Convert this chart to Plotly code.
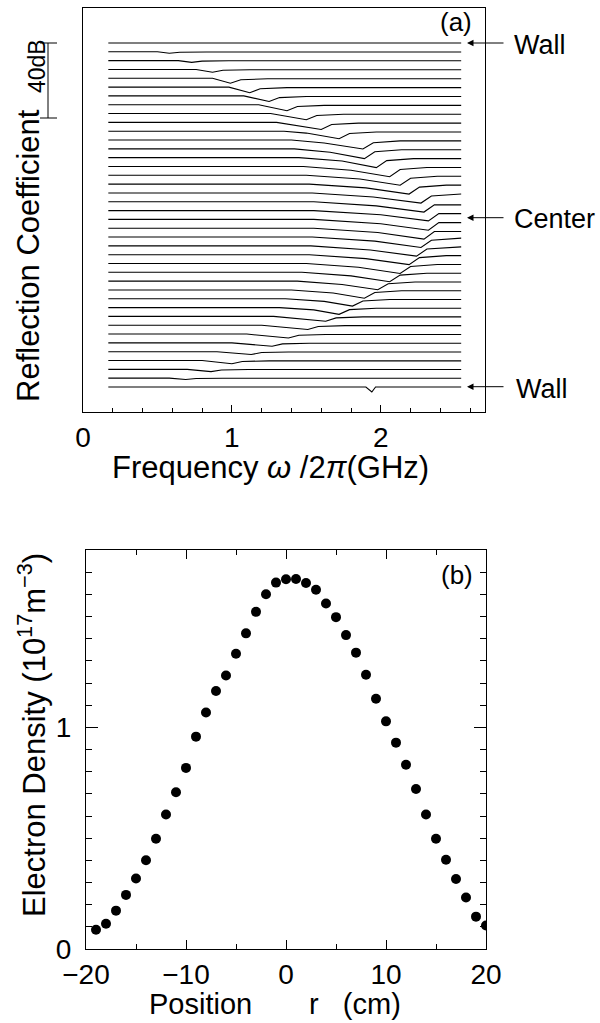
import plotly.graph_objects as go

# ---------------- data: panel (a) reflection spectra ----------------
F_START = 0.17   # GHz, left end of every spectrum
F_END = 2.54     # GHz, right end of every spectrum
TRACE_STEP_DB = 4.704  # vertical offset between successive spectra (dB)

# resonance (dip) frequency of each of the 40 spectra, top (wall) to bottom (wall)
dip_freq = [0.45, 0.58, 0.73, 0.87, 0.99, 1.12, 1.25, 1.37, 1.50, 1.60,
            1.72, 1.88, 1.89, 1.97, 2.06, 2.13, 2.19, 2.27, 2.29, 2.32,
            2.32, 2.29, 2.27, 2.24, 2.19, 2.13, 2.06, 1.98, 1.89, 1.81,
            1.72, 1.63, 1.51, 1.38, 1.27, 1.13, 1.00, 0.86, 0.69, 1.94]
# dip depth (dB)
dip_depth = [0.0, 0.8, 0.9, 1.5, 2.6, 3.0, 3.0, 3.2, 3.3, 3.8,
             4.0, 4.8, 5.2, 5.3, 5.5, 5.3, 5.3, 5.4, 5.5, 5.5,
             5.8, 5.8, 5.6, 5.5, 5.3, 5.3, 5.0, 4.6, 4.4, 3.9,
             3.6, 2.6, 2.3, 2.1, 1.8, 1.5, 1.7, 1.2, 0.7, 2.7]
# frequency where the spectrum starts to fall towards the dip (GHz)
slope_start = [0.40, 0.50, 0.64, 0.76, 0.87, 0.98, 1.08, 1.18, 1.26, 1.30,
               1.35, 1.40, 1.42, 1.45, 1.48, 1.50, 1.52, 1.54, 1.55, 1.55,
               1.55, 1.55, 1.54, 1.53, 1.52, 1.50, 1.47, 1.44, 1.40, 1.36,
               1.32, 1.28, 1.20, 1.10, 1.00, 0.90, 0.80, 0.70, 0.58, 1.90]
# small secondary notch on the falling slope (GHz, level in dB)
sec_freq = [None, None, None, None, None, None, None, None, None, None,
            1.50, 1.62, 1.66, 1.74, 1.80, 1.86, 1.90, 1.95, 1.97, 2.00,
            2.00, 1.98, 1.96, 1.93, 1.90, 1.85, 1.80, 1.74, 1.68, 1.62,
            1.55, None, None, None, None, None, None, None, None, None]
sec_level = [None, None, None, None, None, None, None, None, None, None,
             -1.0, -1.6, -1.8, -1.8, -2.0, -2.0, -2.0, -2.2, -2.2, -2.2,
             -2.3, -2.3, -2.2, -2.2, -2.1, -2.0, -1.9, -1.8, -1.6, -1.4,
             -1.2, None, None, None, None, None, None, None, None, None]
narrow_notch = [False] * 39 + [True]

# ---------------- data: panel (b) density profile ----------------
position_cm = list(range(-19, 21))
density = [0.087, 0.114, 0.173, 0.244, 0.318, 0.400, 0.497, 0.607, 0.707, 0.817,
           0.958, 1.067, 1.164, 1.234, 1.332, 1.424, 1.521, 1.600, 1.653, 1.668,
           1.669, 1.651, 1.621, 1.559, 1.497, 1.416, 1.337, 1.237, 1.129, 1.027,
           0.931, 0.831, 0.722, 0.607, 0.497, 0.403, 0.316, 0.232, 0.146, 0.106]

W, H = 600, 1023
FONT = "Liberation Sans, Arial, Helvetica, sans-serif"


def px_x(p):
    return p / W


def px_y(p):
    return 1 - p / H


fig = go.Figure()

for k in range(len(dip_freq)):
    d, D, s = dip_freq[k], dip_depth[k], slope_start[k]
    xs, ys = [F_START, s], [0.0, 0.0]
    if sec_freq[k] is not None:
        xs.append(sec_freq[k])
        ys.append(sec_level[k])
    if narrow_notch[k]:
        xs += [d, d + 0.025, F_END]
        ys += [-D, 0.0, 0.0]
    else:
        tail_x = [d, d + 0.07, d + 0.25]
        tail_y = [-D, -0.3 * D, -0.1 * D]
        for tx, ty in zip(tail_x, tail_y):
            if tx < F_END:
                xs.append(tx)
                ys.append(ty)
        xs.append(F_END)
        ys.append(ys[-1])
    off = -k * TRACE_STEP_DB
    fig.add_trace(go.Scatter(x=xs, y=[v + off for v in ys], mode="lines",
                             line=dict(color="black", width=1.1),
                             xaxis="x", yaxis="y", hoverinfo="skip"))

fig.add_trace(go.Scatter(x=position_cm, y=density, mode="markers",
                         marker=dict(color="black", size=10),
                         xaxis="x2", yaxis="y2"))

# panel geometry (pixels)
TOP_L, TOP_R, TOP_T, TOP_B = 83, 485, 8, 412
BOT_L, BOT_R, BOT_T, BOT_B = 86, 486, 550, 949
DB_PER_PX = 40 / 75.0
top_trace_px = 43
y_top = (top_trace_px - TOP_T) * DB_PER_PX
y_bot = -(TOP_B - top_trace_px) * DB_PER_PX

axis_common = dict(showline=True, linecolor="black", linewidth=1.2,
                   showgrid=False, zeroline=False, automargin=False,
                   tickfont=dict(family=FONT, size=28, color="black"))

fig.update_layout(
    width=W, height=H, margin=dict(l=0, r=0, t=0, b=0, autoexpand=False),
    paper_bgcolor="white", plot_bgcolor="white", showlegend=False,
    xaxis=dict(domain=[px_x(TOP_L), px_x(TOP_R)], range=[0, 2.7], anchor="y",
               mirror=True, ticks="inside", ticklen=7, tickwidth=1, tickcolor="black",
               tick0=0, dtick=1, ticklabelstandoff=0,
               minor=dict(dtick=0.2, tick0=0, ticks="inside", ticklen=4, tickcolor="black"),
               **axis_common),
    yaxis=dict(domain=[px_y(TOP_B), px_y(TOP_T)], range=[y_bot, y_top], anchor="x",
               mirror=True, ticks="", showticklabels=False, **axis_common),
    xaxis2=dict(domain=[px_x(BOT_L), px_x(BOT_R)], range=[-20, 20], anchor="y2",
                mirror="ticks", ticks="inside", ticklen=9, tickwidth=1, tickcolor="black",
                tick0=0, dtick=10, ticklabelstandoff=0,
                minor=dict(dtick=5, tick0=0, ticks="inside", ticklen=5, tickcolor="black"),
                **axis_common),
    yaxis2=dict(domain=[px_y(BOT_B), px_y(BOT_T)], range=[0, 1.8], anchor="x2",
                mirror="ticks", ticks="inside", ticklen=12, tickwidth=1, tickcolor="black",
                tick0=0, dtick=1, ticklabelstandoff=8,
                minor=dict(dtick=0.1, tick0=0, ticks="inside", ticklen=6, tickcolor="black"),
                **axis_common),
)

ann = []


def text(x, y, s, size, angle=0, xanchor="center", yanchor="middle"):
    ann.append(dict(x=px_x(x), y=px_y(y), xref="paper", yref="paper", text=s,
                    showarrow=False, textangle=angle, xanchor=xanchor, yanchor=yanchor,
                    font=dict(family=FONT, size=size, color="black")))


text(28, 256, "Reflection Coefficient", 31, angle=-90)
text(37, 66, "40dB", 23, angle=-90)
text(270, 467, "Frequency <i>ω</i> /2<i>π</i>(GHz)", 31)
text(456, 22, "(a)", 26)
text(512, 45, "Wall", 27, xanchor="left")
text(512, 219, "Center", 27, xanchor="left")
text(514, 389, "Wall", 27, xanchor="left")
text(32, 735, "Electron Density (10<sup>17</sup>m<sup>−3</sup>)", 31, angle=-90)
text(200, 1004, "Position", 29)
text(307, 1004, "r\u00a0\u00a0\u00a0(cm)", 29, xanchor="left")
text(457, 575, "(b)", 26)

for ypix in (43, 217.7, 386.7):
    ann.append(dict(x=px_x(467), y=px_y(ypix), xref="paper", yref="paper",
                    ax=38, ay=0, axref="pixel", ayref="pixel",
                    text="", showarrow=True, arrowhead=2, arrowsize=1.3,
                    arrowwidth=1, arrowcolor="black"))

fig.update_layout(annotations=ann)

# 40 dB scale bar (in dB units of the top panel)
bar_x, cap_l, cap_r = 48, 40, 57
fig.add_shape(type="line", xref="paper", yref="y", x0=px_x(bar_x), x1=px_x(bar_x),
              y0=0, y1=-40, line=dict(color="black", width=1))
for yv in (0, -40):
    fig.add_shape(type="line", xref="paper", yref="y", x0=px_x(cap_l), x1=px_x(cap_r),
                  y0=yv, y1=yv, line=dict(color="black", width=1))

fig.write_html("out.html")
